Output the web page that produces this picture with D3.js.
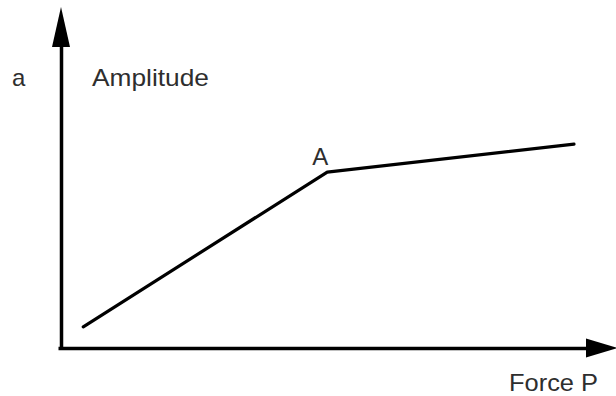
<!DOCTYPE html>
<html>
<head>
<meta charset="utf-8">
<script src="https://cdn.jsdelivr.net/npm/d3@7"></script>
<style>
  html, body { margin: 0; padding: 0; background: #fff; }
  text { font-family: "Liberation Sans", Arial, sans-serif; fill: #2e2e2e; }
</style>
</head>
<body>
<div id="chart"></div>
<script>
// curve: amplitude a against force P, knee at point A
const force = [4, 47.8, 92.1];
const amplitude = [6.2, 51.6, 59.8];
const pointLabels = ["", "A", ""];
const xTitle = "Force P";
const yTitle = "Amplitude";
const ySymbol = "a";

const width = 616;
const height = 396;
const origin = { x: 61, y: 348 };

const x = d3.scaleLinear().domain([0, 100]).range([origin.x, 618]);
const y = d3.scaleLinear().domain([0, 100]).range([origin.y, 7]);

const svg = d3
  .select("#chart")
  .append("svg")
  .attr("width", width)
  .attr("height", height)
  .attr("viewBox", [0, 0, width, height]);

const axisStroke = 3.5;
const xArrow = { len: 32, half: 9.5 };
const yArrow = { len: 40, half: 9 };

// axes without ticks, arrowheads drawn at the ends
svg
  .append("g")
  .attr("transform", `translate(0,${origin.y})`)
  .call(d3.axisBottom(x.copy().range([origin.x - 3, x(100) - xArrow.len + 4])).ticks(0).tickSizeOuter(0))
  .call((g) => g.select(".domain").attr("stroke", "#000").attr("stroke-width", axisStroke));

svg
  .append("g")
  .attr("transform", `translate(${origin.x},0)`)
  .call(d3.axisLeft(y.copy().range([origin.y + 1.5, y(100) + yArrow.len - 4])).ticks(0).tickSizeOuter(0))
  .call((g) => g.select(".domain").attr("stroke", "#000").attr("stroke-width", axisStroke));

svg
  .append("path")
  .attr("fill", "#000")
  .attr(
    "d",
    `M${x(100)},${origin.y} L${x(100) - xArrow.len},${origin.y - xArrow.half} L${x(100) - xArrow.len},${origin.y + xArrow.half} Z`
  );

svg
  .append("path")
  .attr("fill", "#000")
  .attr(
    "d",
    `M${origin.x},${y(100)} L${origin.x - yArrow.half},${y(100) + yArrow.len} L${origin.x + yArrow.half},${y(100) + yArrow.len} Z`
  );

// the curve
const data = force.map((d, i) => ({ force: d, amplitude: amplitude[i], label: pointLabels[i] }));

const line = d3
  .line()
  .x((d) => x(d.force))
  .y((d) => y(d.amplitude));

svg
  .append("path")
  .datum(data)
  .attr("fill", "none")
  .attr("stroke", "#000")
  .attr("stroke-width", 3.2)
  .attr("stroke-linejoin", "round")
  .attr("stroke-linecap", "round")
  .attr("d", line);

svg
  .selectAll(".point-label")
  .data(data.filter((d) => d.label))
  .join("text")
  .attr("class", "point-label")
  .attr("x", (d) => x(d.force) - 7)
  .attr("y", (d) => y(d.amplitude) - 7)
  .attr("text-anchor", "middle")
  .attr("font-size", 24)
  .text((d) => d.label);

// titles
svg
  .append("text")
  .attr("x", 12)
  .attr("y", 86)
  .attr("font-size", 24)
  .text(ySymbol);

svg
  .append("text")
  .attr("x", 92)
  .attr("y", 86)
  .attr("font-size", 24)
  .attr("textLength", 117)
  .attr("lengthAdjust", "spacingAndGlyphs")
  .text(yTitle);

svg
  .append("text")
  .attr("x", 509)
  .attr("y", 391)
  .attr("font-size", 24)
  .attr("textLength", 89)
  .attr("lengthAdjust", "spacingAndGlyphs")
  .text(xTitle);
</script>
</body>
</html>
